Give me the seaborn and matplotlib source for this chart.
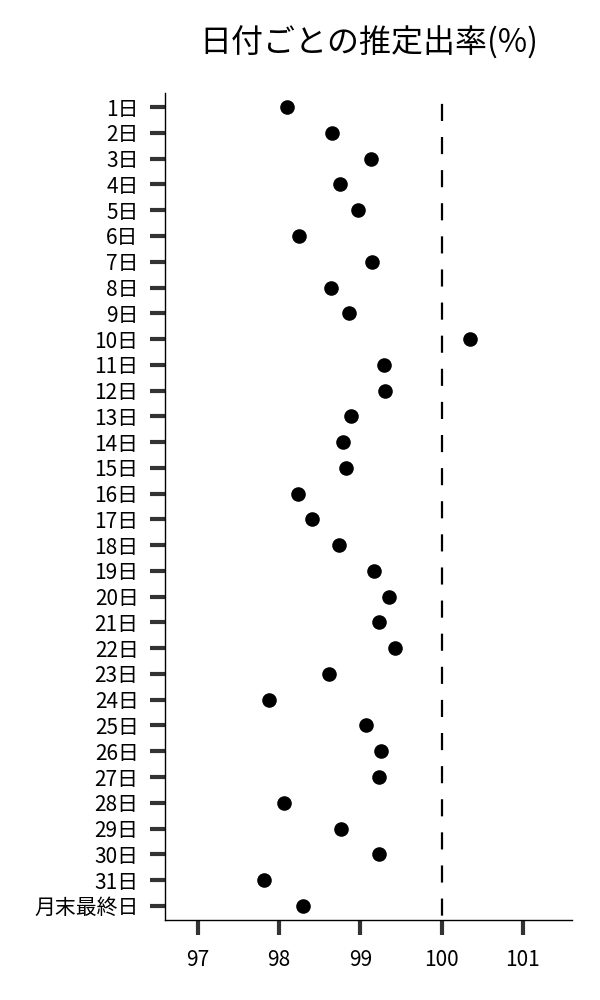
import matplotlib
matplotlib.use("Agg")
import matplotlib.pyplot as plt
import seaborn as sns
import pandas as pd

# 日付ラベル
days = [f"{i}日" for i in range(1, 32)] + ["月末最終日"]
# 推定出率(%)
rates = [98.10, 98.65, 99.13, 98.75, 98.97, 98.25, 99.15, 98.64, 98.86, 100.35,
         99.29, 99.30, 98.88, 98.79, 98.83, 98.23, 98.41, 98.74, 99.17, 99.35,
         99.23, 99.43, 98.61, 97.88, 99.07, 99.25, 99.23, 98.06, 98.76, 99.23,
         97.82, 98.30]
xticks = [97, 98, 99, 100, 101]
ref_line = 100

df = pd.DataFrame({"day": days, "rate": rates})

sns.set_style("white")
plt.rcParams['font.family'] = ['Noto Sans CJK JP', 'DejaVu Sans']
plt.rcParams['text.color'] = 'black'

fig = plt.figure(figsize=(6, 10), dpi=100)
ax = fig.add_axes([0.275, 0.08, 0.678, 0.827])

sns.stripplot(data=df, x="rate", y="day", order=days, jitter=False,
              color="black", size=10.5, linewidth=0, ax=ax, zorder=3)

ylo, yhi = -0.55, len(days) - 0.45
# 基準線(上から破線)
ax.plot([ref_line, ref_line], [ylo, yhi], color="black", linewidth=1.6,
        linestyle=(10, (7.7, 7.2)), zorder=1)

ax.set_xlim(96.6, 101.6)
ax.set_ylim(yhi, ylo)
ax.set_xticks(xticks)
ax.set_xticklabels([str(t) for t in xticks])
ax.set_xlabel("")
ax.set_ylabel("")
ax.set_title("日付ごとの推定出率(%)", fontsize=23, pad=29, color="black")

for s in ["top", "right"]:
    ax.spines[s].set_visible(False)
for s in ["left", "bottom"]:
    ax.spines[s].set_color("black")
    ax.spines[s].set_linewidth(1)

ax.tick_params(axis="both", which="major", direction="out", length=11,
               width=3, color="#333333", labelsize=15, labelcolor="black", pad=8,
               left=True, bottom=True)
ax.tick_params(axis="x", pad=10)

fig.savefig("out.png", dpi=100)
